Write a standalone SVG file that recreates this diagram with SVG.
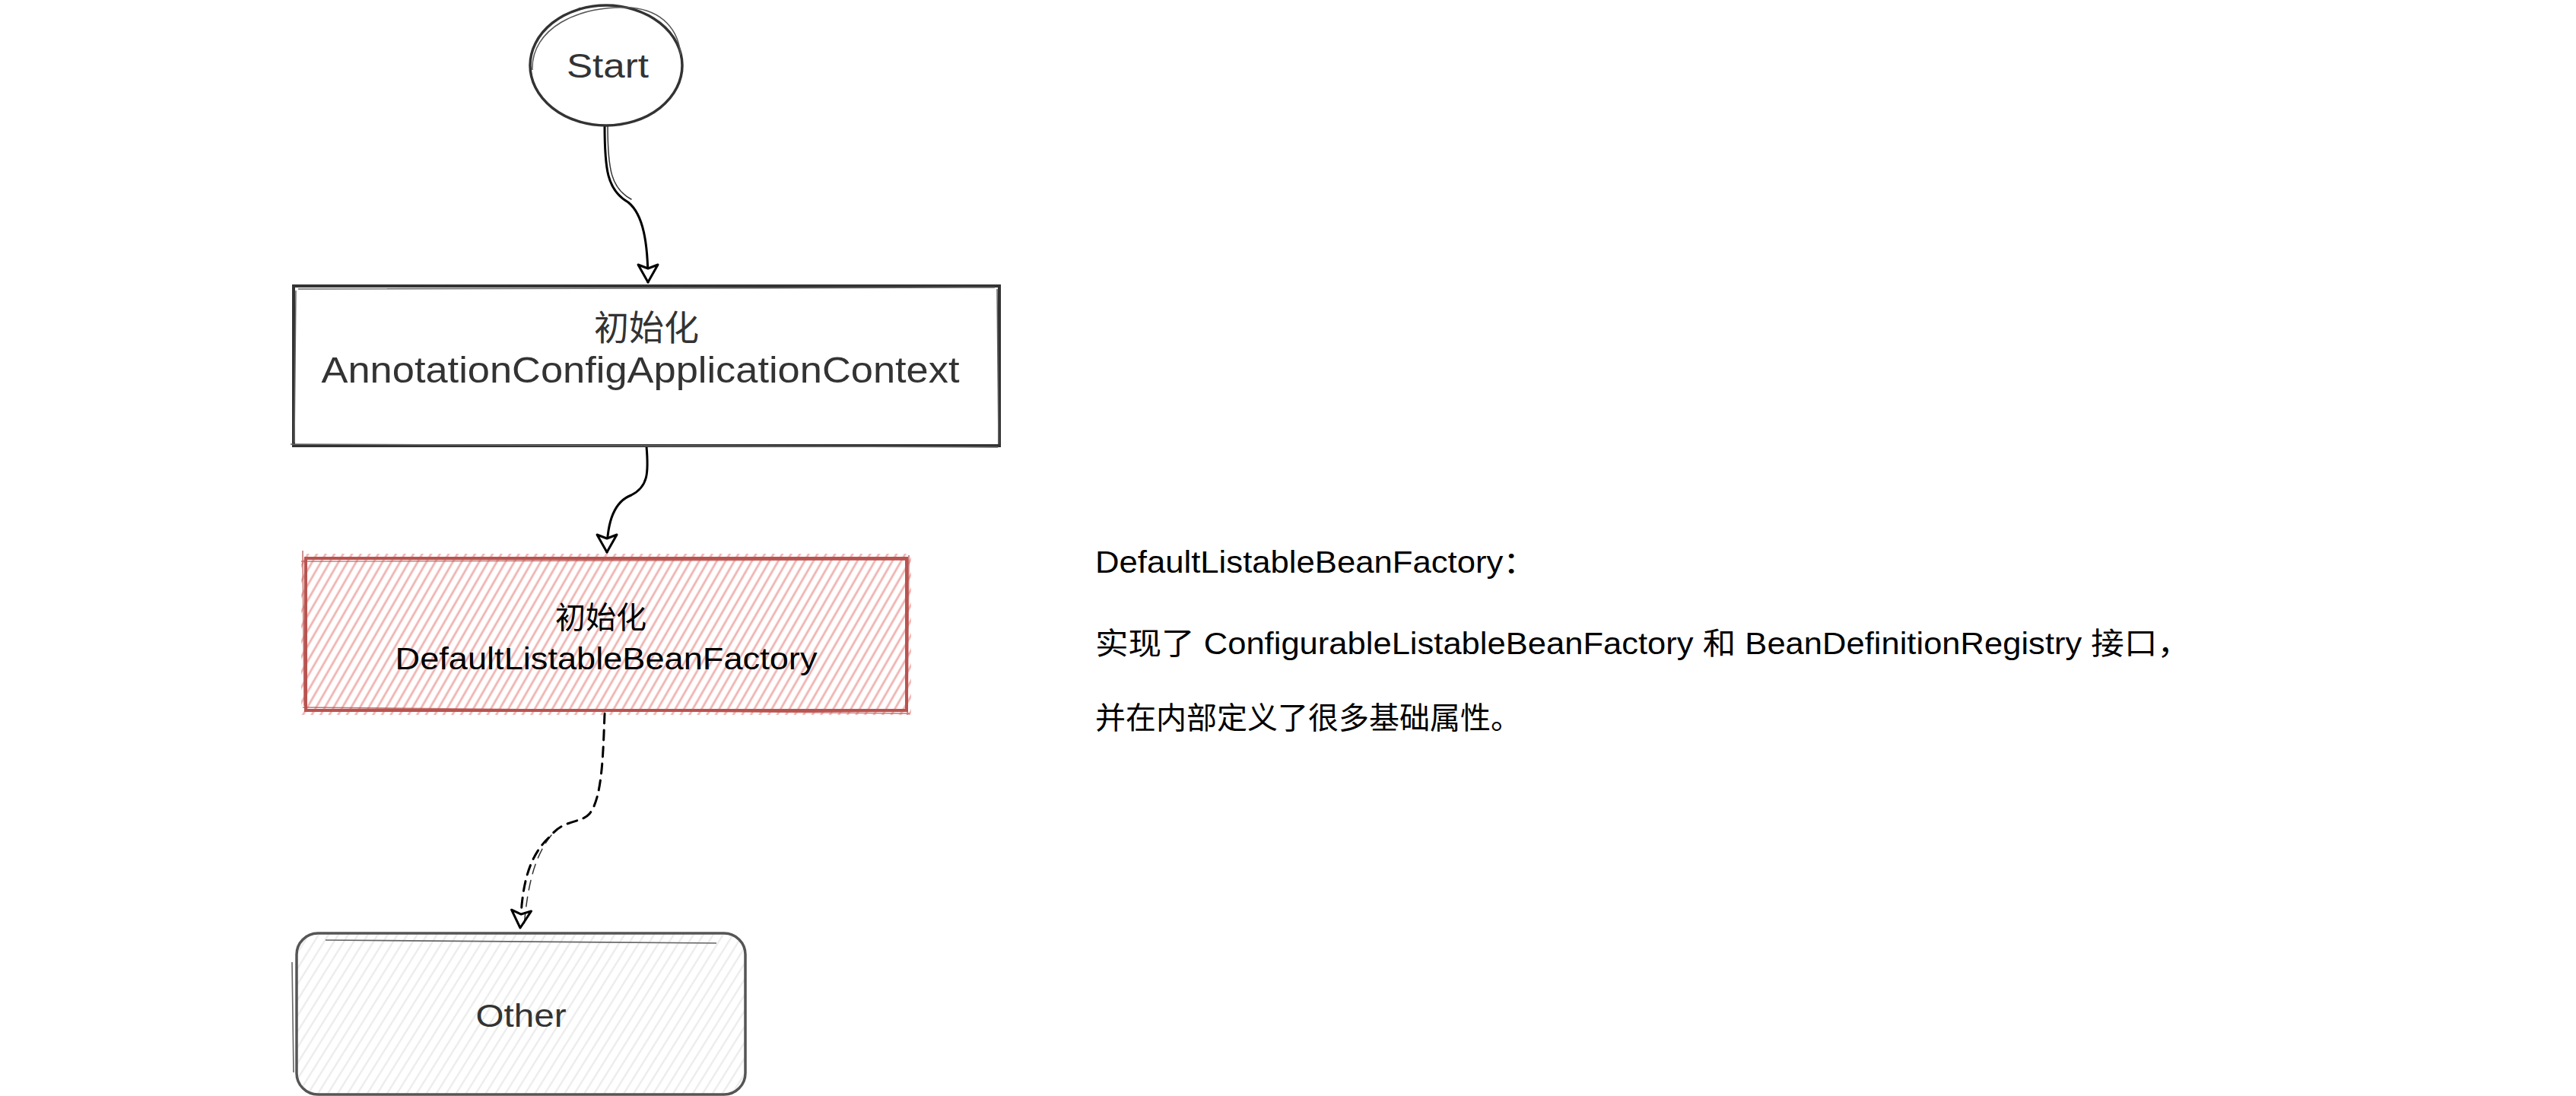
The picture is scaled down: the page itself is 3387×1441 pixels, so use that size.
<svg xmlns="http://www.w3.org/2000/svg" width="3387" height="1441" viewBox="0 0 3387 1441">
  <style>
    .t { font-family: "Liberation Sans", "Noto Sans CJK SC", sans-serif; }
    .c { text-anchor: middle; }
    .edge { fill: none; stroke: #000; stroke-width: 3; stroke-linecap: round; }
    .edge2 { fill: none; stroke: #000; stroke-width: 1.5; stroke-linecap: round; opacity: 0.8; }
    .dash { stroke-dasharray: 13 9; }
  </style>
  <defs>
    <pattern id="hatchRed" patternUnits="userSpaceOnUse" width="10" height="10" patternTransform="rotate(30)">
      <line x1="5" y1="-2" x2="5" y2="12" stroke="#efb3b1" stroke-width="2.8"/>
    </pattern>
    <pattern id="hatchGray" patternUnits="userSpaceOnUse" width="11" height="11" patternTransform="rotate(32)">
      <line x1="5.5" y1="-2" x2="5.5" y2="13" stroke="#e8e8e8" stroke-width="2"/>
    </pattern>
    <marker id="arrow" markerUnits="userSpaceOnUse" markerWidth="32" markerHeight="32" viewBox="0 0 32 32" refX="27" refY="16" orient="auto">
      <path d="M4 3 L27 16 L4 29 L9 16 Z" fill="#fff" stroke="#000" stroke-width="3" stroke-linejoin="round"/>
    </marker>
  </defs>

  <rect x="0" y="0" width="3387" height="1441" fill="#fff"/>

  <g id="connectors">
    <path class="edge" d="M795 165 C795 222 798 250 826 266 C846 282 852 320 852 371" marker-end="url(#arrow)"/>
    <path class="edge2" d="M799 165 C799 224 804 248 830 262"/>
    <path class="edge" d="M850 587 C853 622 852 640 830 651 C806 660 798 690 798 726" marker-end="url(#arrow)"/>
    <path class="edge dash" d="M795 938 C793 990 792 1050 775 1070 C765 1082 740 1078 725 1098 C700 1120 690 1150 686 1190 L684 1220" marker-end="url(#arrow)"/>
    <path class="edge2 dash" d="M725 1098 C704 1124 694 1160 689 1218"/>
  </g>

  <g id="node-start">
    <ellipse cx="797" cy="86" rx="100" ry="79" fill="#fff" stroke="#333" stroke-width="3.5"/>
    <path d="M700 92 C698 38 760 6 830 10 C872 14 892 40 895 72" fill="none" stroke="#555" stroke-width="1.5"/>
    <text class="t c" x="799" y="102" font-size="44" fill="#333" textLength="108" lengthAdjust="spacingAndGlyphs">Start</text>
  </g>

  <g id="node-context">
    <rect x="386" y="376" width="928" height="210" fill="#fff" stroke="#333" stroke-width="4"/>
    <path d="M392 380 L1308 378 M382 584 L1312 588 M389 382 L387 582 M1311 380 L1313 584" fill="none" stroke="#666" stroke-width="1.5"/>
    <text class="t c" x="850" y="447" font-size="46" fill="#333">初始化</text>
    <text class="t c" x="842" y="503" font-size="48" fill="#333" textLength="839" lengthAdjust="spacingAndGlyphs">AnnotationConfigApplicationContext</text>
  </g>

  <g id="node-factory">
    <rect x="396" y="728" width="802" height="212" fill="url(#hatchRed)"/>
    <rect x="402" y="734" width="790" height="200" fill="none" stroke="#b85450" stroke-width="4"/>
    <path d="M396 738 L1195 736 M398 930 L1196 938 M398 724 L400 928 M1195 730 L1193 940" fill="none" stroke="#b85450" stroke-width="1.6" opacity="0.8"/>
    <text class="t c" x="790" y="826" font-size="40" fill="#000">初始化</text>
    <text class="t c" x="797" y="880" font-size="40" fill="#000" textLength="555" lengthAdjust="spacingAndGlyphs">DefaultListableBeanFactory</text>
  </g>

  <g id="node-other">
    <rect x="390" y="1227" width="590" height="212" rx="28" ry="28" fill="url(#hatchGray)" stroke="#555" stroke-width="3.5"/>
    <path d="M428 1236 L942 1240 M384 1265 L386 1410" fill="none" stroke="#666" stroke-width="1.6"/>
    <text class="t c" x="685" y="1350" font-size="42" fill="#333" textLength="119" lengthAdjust="spacingAndGlyphs">Other</text>
  </g>

  <g id="note">
    <text class="t" x="1440" y="753" font-size="40" fill="#000" textLength="580" lengthAdjust="spacingAndGlyphs">DefaultListableBeanFactory：</text>
    <text class="t" x="1440" y="860" font-size="40" fill="#000" textLength="1440" lengthAdjust="spacingAndGlyphs">实现了 ConfigurableListableBeanFactory 和 BeanDefinitionRegistry 接口，</text>
    <text class="t" x="1440" y="958" font-size="40" fill="#000">并在内部定义了很多基础属性。</text>
  </g>
</svg>
